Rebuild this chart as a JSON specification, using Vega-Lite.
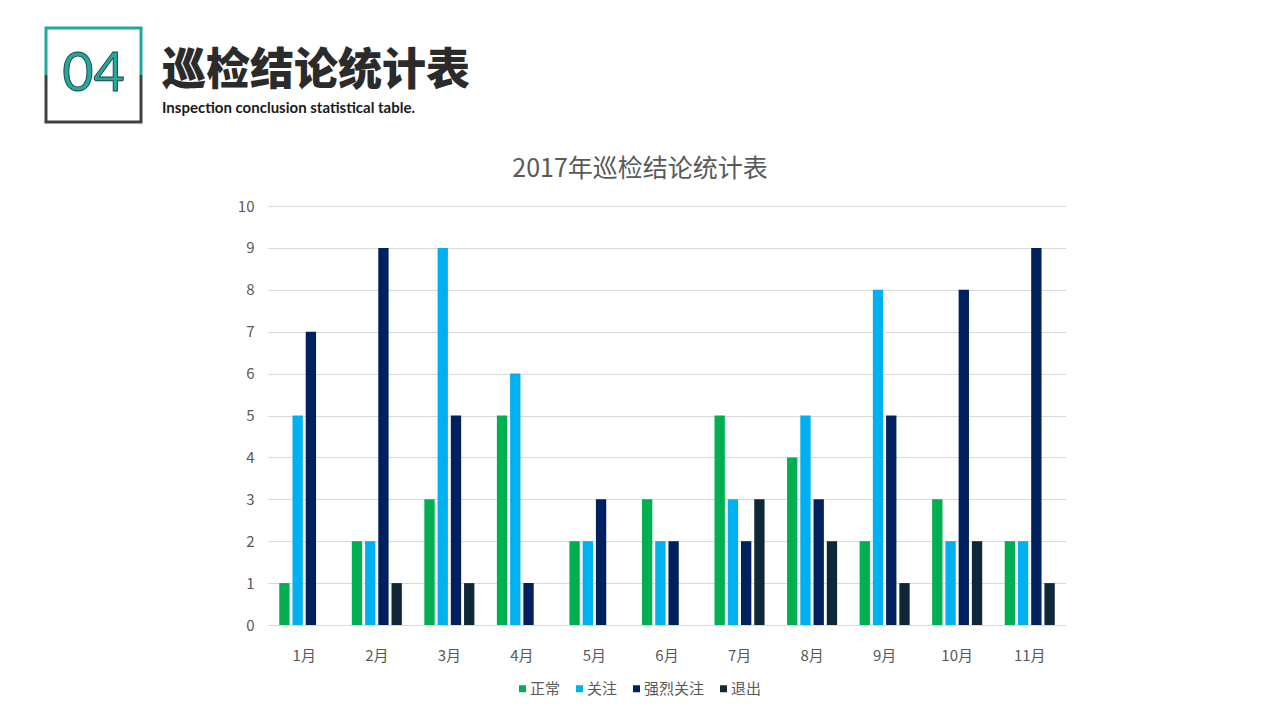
{
  "$schema": "https://vega.github.io/schema/vega-lite/v6.json",
  "background": "white",
  "padding": {"left": 40, "top": 22, "right": 0, "bottom": 0},
  "config": {
    "view": {"stroke": null},
    "font": "Noto Sans CJK SC"
  },
  "spacing": 29,
  "resolve": {"scale": {"color": "independent"}, "legend": {"color": "independent"}},
  "vconcat": [
    {
      "spacing": 15,
      "hconcat": [
        {
          "width": 95,
          "height": 94,
          "layer": [
            {
              "data": {"values": [
                {"h": "左", "v": "中", "k": 1},
                {"h": "左", "v": "上", "k": 2},
                {"h": "右", "v": "上", "k": 3},
                {"h": "右", "v": "中", "k": 4}
              ]},
              "mark": {"type": "line", "strokeWidth": 3, "color": "#1fa89b", "strokeCap": "butt"},
              "encoding": {
                "x": {"field": "h", "type": "ordinal", "scale": {"type": "point", "domain": ["左", "右"], "padding": 0}, "axis": null},
                "y": {"field": "v", "type": "ordinal", "scale": {"type": "point", "domain": ["上", "中", "下"], "padding": 0}, "axis": null},
                "order": {"field": "k", "type": "quantitative"}
              }
            },
            {
              "data": {"values": [
                {"h": "左", "v": "中", "k": 1},
                {"h": "左", "v": "下", "k": 2},
                {"h": "右", "v": "下", "k": 3},
                {"h": "右", "v": "中", "k": 4}
              ]},
              "mark": {"type": "line", "strokeWidth": 3, "color": "#404040", "strokeCap": "butt"},
              "encoding": {
                "x": {"field": "h", "type": "ordinal", "scale": {"type": "point", "domain": ["左", "右"], "padding": 0}, "axis": null},
                "y": {"field": "v", "type": "ordinal", "scale": {"type": "point", "domain": ["上", "中", "下"], "padding": 0}, "axis": null},
                "order": {"field": "k", "type": "quantitative"}
              }
            },
            {
              "data": {"values": [{"label": "04"}]},
              "mark": {"type": "text", "font": "Lato", "fontWeight": 400, "fontSize": 54, "fill": "#22a99c", "stroke": "#1d3b3a", "strokeWidth": 0.9, "align": "center", "baseline": "middle"},
              "encoding": {"text": {"field": "label", "type": "nominal"}}
            }
          ]
        },
        {
          "width": 320,
          "height": 1,
          "title": {
            "text": "巡检结论统计表",
            "subtitle": "Inspection conclusion statistical table.",
            "orient": "bottom",
            "anchor": "start",
            "offset": 16,
            "fontSize": 44,
            "font": "Noto Sans CJK SC",
            "fontWeight": 900,
            "color": "#2b2b2b",
            "subtitleFont": "Lato",
            "subtitleFontSize": 15,
            "subtitleFontWeight": "bold",
            "subtitleColor": "#1a1a1a",
            "subtitlePadding": 7
          },
          "data": {"values": [{}]},
          "mark": {"type": "text", "text": ""},
          "encoding": {}
        }
      ]
    },
    {
      "spacing": 0,
      "resolve": {"scale": {"color": "independent"}, "legend": {"color": "independent"}},
      "hconcat": [
        {
          "width": 191,
          "height": 1,
          "data": {"values": [{}]},
          "mark": {"type": "text", "text": ""},
          "encoding": {}
        },
        {
          "width": 798,
          "height": 419,
          "title": {"text": "2017年巡检结论统计表", "fontSize": 25, "fontWeight": "normal", "color": "#595959", "offset": 17, "anchor": "middle", "dx": -27},
          "data": {"values": [
            {"month": "1月", "status": "正常", "count": 1},
            {"month": "1月", "status": "关注", "count": 5},
            {"month": "1月", "status": "强烈关注", "count": 7},
            {"month": "1月", "status": "退出", "count": 0},
            {"month": "2月", "status": "正常", "count": 2},
            {"month": "2月", "status": "关注", "count": 2},
            {"month": "2月", "status": "强烈关注", "count": 9},
            {"month": "2月", "status": "退出", "count": 1},
            {"month": "3月", "status": "正常", "count": 3},
            {"month": "3月", "status": "关注", "count": 9},
            {"month": "3月", "status": "强烈关注", "count": 5},
            {"month": "3月", "status": "退出", "count": 1},
            {"month": "4月", "status": "正常", "count": 5},
            {"month": "4月", "status": "关注", "count": 6},
            {"month": "4月", "status": "强烈关注", "count": 1},
            {"month": "4月", "status": "退出", "count": 0},
            {"month": "5月", "status": "正常", "count": 2},
            {"month": "5月", "status": "关注", "count": 2},
            {"month": "5月", "status": "强烈关注", "count": 3},
            {"month": "5月", "status": "退出", "count": 0},
            {"month": "6月", "status": "正常", "count": 3},
            {"month": "6月", "status": "关注", "count": 2},
            {"month": "6月", "status": "强烈关注", "count": 2},
            {"month": "6月", "status": "退出", "count": 0},
            {"month": "7月", "status": "正常", "count": 5},
            {"month": "7月", "status": "关注", "count": 3},
            {"month": "7月", "status": "强烈关注", "count": 2},
            {"month": "7月", "status": "退出", "count": 3},
            {"month": "8月", "status": "正常", "count": 4},
            {"month": "8月", "status": "关注", "count": 5},
            {"month": "8月", "status": "强烈关注", "count": 3},
            {"month": "8月", "status": "退出", "count": 2},
            {"month": "9月", "status": "正常", "count": 2},
            {"month": "9月", "status": "关注", "count": 8},
            {"month": "9月", "status": "强烈关注", "count": 5},
            {"month": "9月", "status": "退出", "count": 1},
            {"month": "10月", "status": "正常", "count": 3},
            {"month": "10月", "status": "关注", "count": 2},
            {"month": "10月", "status": "强烈关注", "count": 8},
            {"month": "10月", "status": "退出", "count": 2},
            {"month": "11月", "status": "正常", "count": 2},
            {"month": "11月", "status": "关注", "count": 2},
            {"month": "11月", "status": "强烈关注", "count": 9},
            {"month": "11月", "status": "退出", "count": 1}
          ]},
          "mark": {"type": "bar"},
          "encoding": {
            "x": {
              "field": "month", "type": "nominal",
              "sort": ["1月", "2月", "3月", "4月", "5月", "6月", "7月", "8月", "9月", "10月", "11月"],
              "scale": {"paddingInner": 0.31, "paddingOuter": 0.155},
              "axis": {"title": null, "labelAngle": 0, "ticks": false, "domain": true, "domainColor": "#d9d9d9", "labelPadding": 23, "labelFontSize": 15, "labelColor": "#595959"}
            },
            "xOffset": {
              "field": "status", "type": "nominal",
              "sort": ["正常", "关注", "强烈关注", "退出"],
              "scale": {"paddingInner": 0.22, "paddingOuter": 0}
            },
            "y": {
              "field": "count", "type": "quantitative",
              "scale": {"domain": [0, 10]},
              "axis": {"title": null, "values": [0, 1, 2, 3, 4, 5, 6, 7, 8, 9, 10], "domain": false, "ticks": false, "grid": true, "gridColor": "#d9d9d9", "labelPadding": 14, "labelFontSize": 15, "labelColor": "#595959"}
            },
            "color": {
              "field": "status", "type": "nominal",
              "sort": ["正常", "关注", "强烈关注", "退出"],
              "scale": {"domain": ["正常", "关注", "强烈关注", "退出"], "range": ["#00b050", "#00b0f0", "#002060", "#0e2838"]},
              "legend": {"title": null, "orient": "none", "legendX": 247, "legendY": 475, "direction": "horizontal", "symbolType": "square", "symbolSize": 49, "labelFontSize": 15, "labelColor": "#595959", "columnPadding": 11, "labelOffset": 0}
            }
          }
        }
      ]
    }
  ]
}
